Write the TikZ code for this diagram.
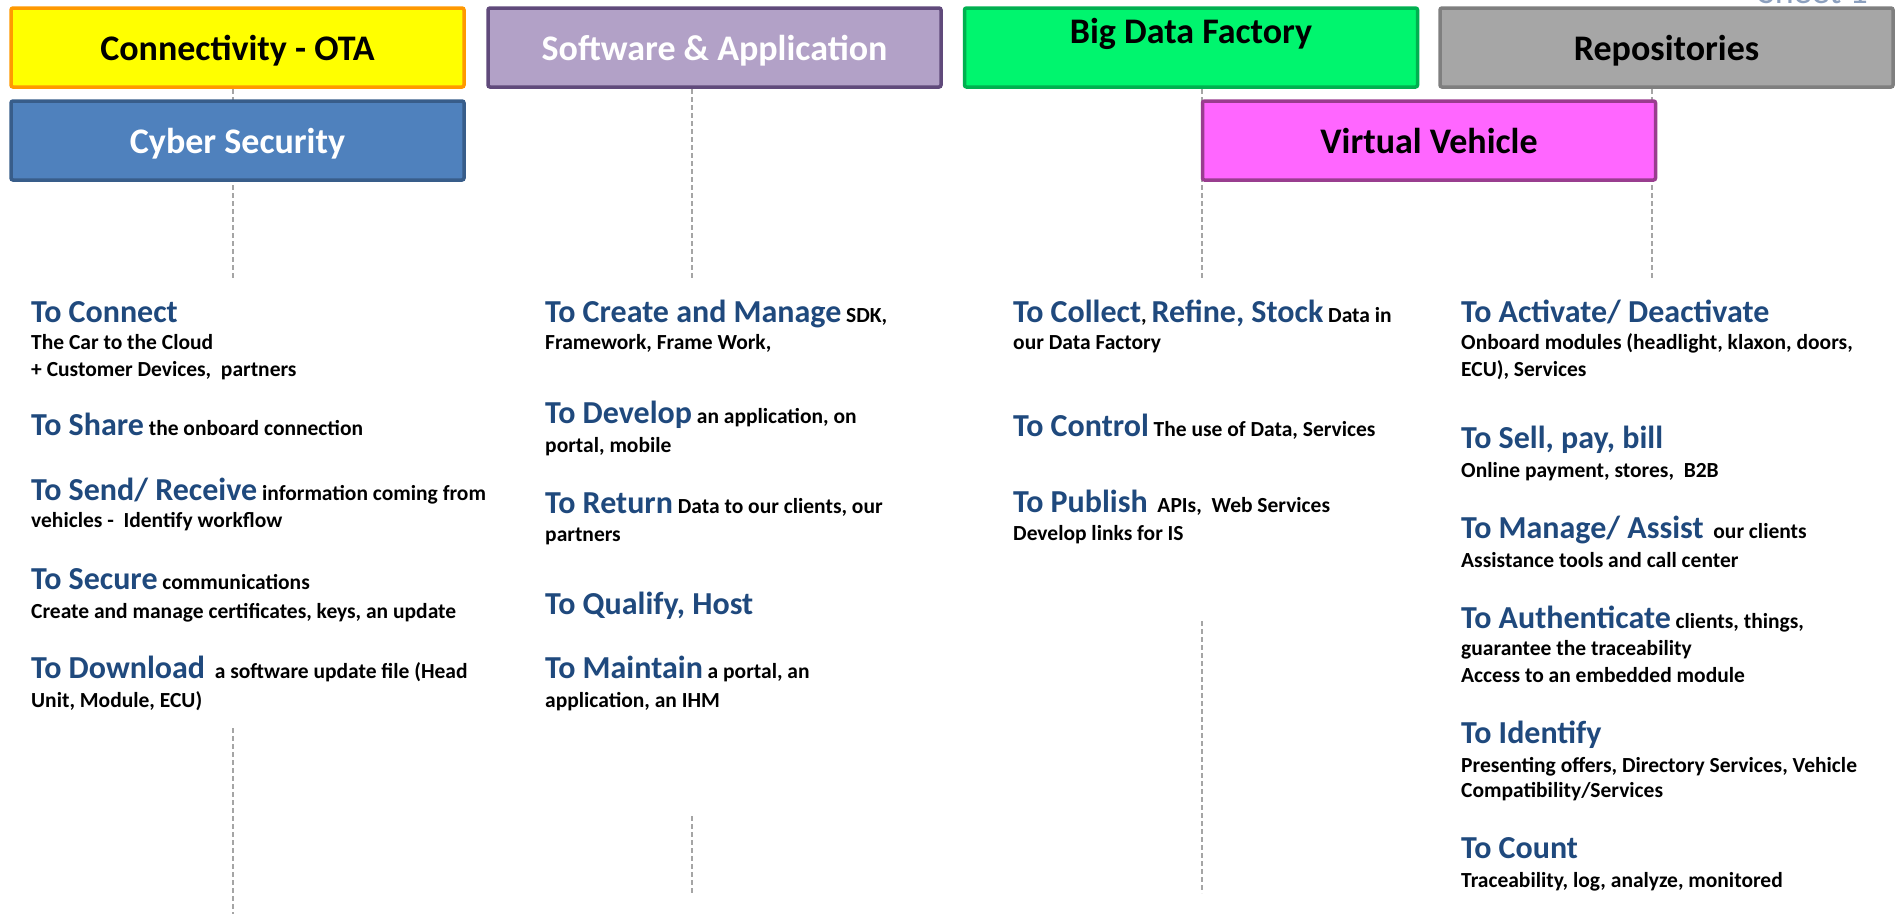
\documentclass[tikz,border=0pt]{standalone}
\usepackage{fontspec}
\setmainfont{Carlito}
\usepackage{tikz}
\usetikzlibrary{positioning}

\definecolor{headblue}{RGB}{31,73,125}
\definecolor{otafill}{RGB}{255,255,0}
\definecolor{otaline}{RGB}{255,153,0}
\definecolor{cyfill}{RGB}{79,129,189}
\definecolor{cyline}{RGB}{56,93,138}
\definecolor{swfill}{RGB}{178,161,199}
\definecolor{swline}{RGB}{96,74,123}
\definecolor{bdfill}{RGB}{0,245,110}
\definecolor{bdline}{RGB}{0,176,80}
\definecolor{vvfill}{RGB}{255,102,255}
\definecolor{vvline}{RGB}{153,61,143}
\definecolor{rpfill}{RGB}{166,166,166}
\definecolor{rpline}{RGB}{127,127,127}
\definecolor{guidegray}{RGB}{165,165,165}
\definecolor{sheetgray}{RGB}{140,160,190}

\newcommand{\aim}[1]{{\color{headblue}\fontsize{32}{27}\selectfont #1}}
\newcommand{\actlines}[1]{\begin{tabular}[t]{@{}l@{}}#1\end{tabular}}

\begin{document}
\begin{tikzpicture}[x=1pt,y=-1pt,
  domainbox/.style={draw, line width=3.5pt, rounded corners=2pt, minimum width=453pt,
    minimum height=79pt, inner sep=0pt, font=\bfseries\fontsize{36}{40}\selectfont,
    text height=28pt, text depth=3pt},
  actionbox/.style={anchor=base west, inner sep=0pt,
    font=\bfseries\fontsize{21.5}{27}\selectfont},
  guideline/.style={guidegray, line width=1.5pt, dash pattern=on 5pt off 3pt}]
\useasboundingbox (0,0) rectangle (1895,914);
\clip (0,0) rectangle (1895,914);

% guides behind the boxes
\foreach \gx/\gname in {233/a,692/b,1202/c,1652/d}{
  \coordinate (up\gname) at (\gx,89);
  \coordinate (dn\gname) at (\gx,280);
  \draw[guideline] (up\gname) -- (dn\gname);
}
\coordinate (lowa1) at (233,728);  \coordinate (lowa2) at (233,914);
\coordinate (lowb1) at (692,816);  \coordinate (lowb2) at (692,893);
\coordinate (lowc1) at (1202,621); \coordinate (lowc2) at (1202,893);
\draw[guideline] (lowa1) -- (lowa2);
\draw[guideline] (lowb1) -- (lowb2);
\draw[guideline] (lowc1) -- (lowc2);

% domains
\node[domainbox, fill=otafill, draw=otaline] (ota) at (237.5,47.5) {Connectivity - OTA};
\node[domainbox, fill=cyfill, draw=cyline, text=white] (cyber) at (237.5,140.5) {Cyber Security};
\node[domainbox, fill=swfill, draw=swline, text=white] (soft) at (714.5,47.5) {Software \& Application};
\node[domainbox, fill=bdfill, draw=bdline, text depth=37pt] (bigdata) at (1191,47.5) {Big Data Factory};
\node[domainbox, fill=rpfill, draw=rpline] (repo) at (1666.5,47.5) {Repositories};
\node[domainbox, fill=vvfill, draw=vvline] (virtual) at (1429,140.5) {Virtual Vehicle};

\node[anchor=base, text=sheetgray, font=\fontsize{36}{40}\selectfont] (sheet) at (1813,3) {Sheet 1};

% connectivity / cyber security
\node[actionbox] (connect) at (31,322) {\actlines{\aim{To Connect}\\The Car to the Cloud\\+ Customer Devices,~~partners}};
\node[actionbox] (share) at (31,435) {\aim{To Share} the onboard connection};
\node[actionbox] (send) at (31,500) {\actlines{\aim{To Send/ Receive} information coming from\\vehicles -~~Identify workflow}};
\node[actionbox] (secure) at (31,589) {\actlines{\aim{To Secure} communications\\[2pt]Create and manage certificates, keys, an update}};
\node[actionbox] (download) at (31,678) {\actlines{\aim{To Download}~ a software update file (Head\\[2pt]Unit, Module, ECU)}};

% software & application
\node[actionbox] (create) at (545,322) {\actlines{\aim{To Create and Manage} SDK,\\Framework, Frame Work,}};
\node[actionbox] (develop) at (545,423) {\actlines{\aim{To Develop} an application, on\\[2pt]portal, mobile}};
\node[actionbox] (return) at (545,513) {\actlines{\aim{To Return} Data to our clients, our\\[1pt]partners}};
\node[actionbox] (qualify) at (545,614) {\aim{To Qualify, Host}};
\node[actionbox] (maintain) at (545,678) {\actlines{\aim{To Maintain} a portal, an\\[2pt]application, an IHM}};

% big data factory
\node[actionbox] (collect) at (1013,322) {\actlines{\aim{To Collect}, \aim{Refine, Stock} Data in\\our Data Factory}};
\node[actionbox] (control) at (1013,436) {\aim{To Control} The use of Data, Services};
\node[actionbox] (publish) at (1013,512) {\actlines{\aim{To Publish}~ APIs,~ Web Services\\[1pt]Develop links for IS}};

% repositories / virtual vehicle
\node[actionbox] (activate) at (1461,322) {\actlines{\aim{To Activate/ Deactivate}\\Onboard modules (headlight, klaxon, doors,\\ECU), Services}};
\node[actionbox] (sell) at (1461,448) {\actlines{\aim{To Sell, pay, bill}\\[2pt]Online payment, stores,~ B2B}};
\node[actionbox] (assist) at (1461,538) {\actlines{\aim{To Manage/ Assist}~ our clients\\[2pt]Assistance tools and call center}};
\node[actionbox] (auth) at (1461,628) {\actlines{\aim{To Authenticate} clients, things,\\guarantee the traceability\\Access to an embedded module}};
\node[actionbox] (identify) at (1461,743) {\actlines{\aim{To Identify}\\[2pt]Presenting offers, Directory Services, Vehicle\\[-2pt]Compatibility/Services}};
\node[actionbox] (count) at (1461,858) {\actlines{\aim{To Count}\\[2pt]Traceability, log, analyze, monitored}};
\end{tikzpicture}
\end{document}
